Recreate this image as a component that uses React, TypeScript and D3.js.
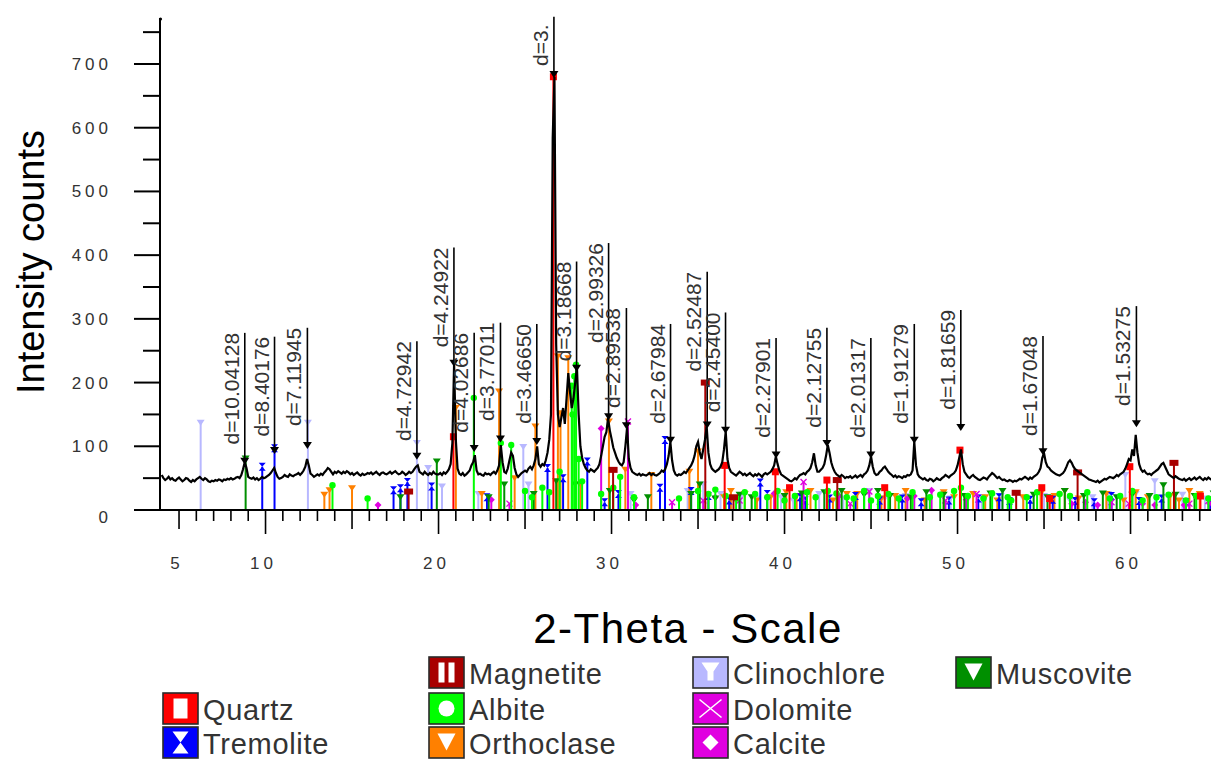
import React from "react";
import * as d3 from "d3";

const W = 1211;
const H = 764;
const FONT = "'Liberation Sans', Arial, sans-serif";

// ---- measured pattern (counts every 0.1 deg 2-theta) ----
const CURVE_STEP = 0.1;
const seg1Start = 4.0;
const seg1 = [
  55, 50, 47, 49, 52, 48, 50, 47, 46, 49,
  51, 48, 45, 47, 50, 49, 46, 44, 47, 45,
  48, 50, 52, 49, 47, 50, 48, 45, 44, 46,
  45, 47, 46, 48, 47, 45, 48, 47, 49, 48,
  50, 48, 49, 51, 52, 50, 55, 64, 75, 66,
  52, 50, 49, 51, 48, 50, 47, 49, 52, 50,
  51, 53, 55, 58, 62, 66, 58, 52, 49, 50,
  52, 55, 53, 52, 56, 54, 53, 55, 56, 58,
  55, 58, 62, 68, 80, 70, 57, 55, 52, 54,
  56, 54, 57, 55, 59, 62, 66, 64, 60, 56,
  60, 58, 61, 59, 57, 60, 58, 61, 59, 56,
  58, 55, 57, 59, 56, 54, 57, 55, 56, 58,
  57, 59, 56, 58, 60, 57, 55, 58, 59, 57,
  56, 58, 60, 57, 59, 61, 58, 56, 57, 60,
  58, 55, 57, 60, 58, 60, 64, 68, 70, 60,
  58, 56, 60, 57, 55, 58, 56, 60, 57, 56,
];
const seg2Start = 20.0;
const seg2 = [
  56, 58, 55, 59, 57, 60, 64, 72, 105, 230,
  110, 65, 57, 55, 58, 54, 56, 59, 62, 70,
  75, 86, 62, 56, 57, 55, 54, 58, 56, 57,
  55, 58, 60, 57, 62, 70, 102, 75, 60, 58,
  65, 78, 90, 85, 66, 56, 52, 55, 58, 60,
  62, 60, 65, 68, 64, 70, 80, 100, 72, 68,
  72, 70, 78, 90, 110, 150, 584, 680, 260, 150,
  130, 145, 160, 135, 175, 215, 185, 160, 175, 200,
  225, 150, 100, 82, 72, 66, 62, 60, 64, 62,
  60, 63, 66, 72, 85, 100, 115, 122, 144, 125,
  112, 98, 90, 82, 76, 72, 70, 75, 100, 130,
  80, 66, 60, 58, 56, 55, 57, 54, 56, 55,
  54, 56, 58, 55, 57, 55, 54, 56, 58, 62,
  60, 64, 72, 85, 107, 78, 62, 56, 54, 56,
  55, 57, 60, 58, 62, 66, 70, 76, 85, 100,
  107, 90, 80, 95, 110, 131, 90, 72, 65, 62,
  60, 62, 64, 68, 75, 95, 123, 80, 66, 60,
];
const seg3Start = 37.0;
const seg3 = [
  58, 56, 54, 57, 60, 58, 55, 57, 54, 56,
  58, 55, 53, 56, 54, 57, 55, 52, 56, 58,
  56, 58, 60, 64, 70, 84, 72, 62, 56, 54,
  52, 50, 48, 46, 45, 47, 50, 48, 52, 55,
  56, 58, 56, 60, 62, 66, 75, 89, 70, 60,
  60, 63, 66, 72, 85, 102, 90, 75, 66, 60,
  56, 54, 52, 55, 53, 50, 52, 51, 53, 50,
  52, 54, 51, 53, 55, 52, 56, 58, 62, 70,
  84, 68, 58, 55, 56, 60, 62, 66, 68, 64,
  60, 57, 55, 52, 54, 51, 53, 52, 50, 53,
  52, 55, 54, 56, 62, 107, 70, 56, 52, 50,
  48, 50, 47, 46, 49, 48, 45, 47, 50, 48,
  47, 50, 52, 55, 53, 51, 54, 56, 58, 62,
  70, 82, 95, 72, 60, 56, 52, 50, 53, 55,
];
const seg4Start = 51.0;
const seg4 = [
  52, 50, 48, 47, 49, 51, 50, 48, 52, 55,
  58, 56, 53, 50, 52, 49, 47, 48, 46, 45,
  47, 46, 44, 46, 45, 47, 49, 48, 50, 52,
  50, 48, 51, 49, 52, 54, 56, 60, 66, 82,
  89, 75, 68, 66, 62, 60, 58, 56, 55, 54,
  56, 58, 62, 68, 75, 78, 74, 68, 64, 62,
  60, 58, 56, 54, 52, 50, 48, 47, 46, 45,
  44, 46, 43, 45, 47, 49, 48, 50, 52, 51,
  50, 52, 55, 53, 56, 58, 60, 65, 72, 80,
  78, 95, 85, 118, 90, 72, 64, 60, 62, 58,
  56, 57, 55, 58, 60, 62, 64, 68, 72, 74,
  68, 62, 56, 54, 52, 50, 53, 51, 49, 48,
  47, 49, 46, 48, 50, 47, 49, 51, 48, 50,
  52, 49, 47, 50, 48, 51, 49, 47, 50, 48, 49,
];

// ---- d-spacing labels ----
const labelTheta = [8.80, 10.52, 12.42, 18.75, 20.89, 22.06, 23.58, 25.68, 26.67, 27.98, 29.83, 30.86, 33.41, 35.53, 36.59, 39.51, 42.45, 44.99, 47.50, 50.19, 54.94, 60.34];
const labelText = ["d=10.04128", "d=8.40176", "d=7.11945", "d=4.72942", "d=4.24922", "d=4.02686", "d=3.77011", "d=3.46650", "d=3.", "d=3.18668", "d=2.99326", "d=2.89538", "d=2.67984", "d=2.52487", "d=2.45400", "d=2.27901", "d=2.12755", "d=2.01317", "d=1.91279", "d=1.81659", "d=1.67048", "d=1.53275"];
const labelPeak = [74, 91, 99, 82, 228, 94, 109, 105, 681, 220, 144, 130, 107, 131, 123, 84, 102, 84, 107, 127, 89, 133];
const labelLineTop = [278, 272, 286, 265, 412, 278, 294, 292, 774, 390, 419, 317, 292, 374, 310, 270, 286, 270, 292, 314, 273, 320];
const labelTextTop = [278, 272, 286, 265, 412, 278, 294, 292, 762, 390, 419, 317, 292, 374, 310, 270, 286, 270, 292, 314, 273, 320];

// ---- axes ----
const xTickLabels = [5, 10, 20, 30, 40, 50, 60];
const yTickLabels = [0, 100, 200, 300, 400, 500, 600, 700];

// ---- reference phases (2-theta, counts) ----
const quartzSticks = [[20.86, 115], [26.64, 680], [36.54, 70], [39.47, 60], [40.29, 35], [42.45, 47], [45.79, 35], [50.14, 94], [54.87, 35], [55.33, 18], [59.96, 68], [64.04, 22]];
const magnetiteSticks = [[18.27, 29], [30.09, 63], [35.42, 200], [37.05, 20], [43.05, 47], [53.39, 27], [56.94, 59], [62.51, 74]];
const tremoliteSticks = [[9.81, 68], [10.52, 97], [17.4, 31], [17.8, 34], [18.2, 44], [19.6, 37], [22.8, 20], [26.3, 66], [27.2, 50], [28.6, 76], [29.6, 12], [30.4, 25], [32.8, 35], [33.09, 110], [34.6, 30], [35.6, 22], [36.8, 15], [38.6, 43], [39.0, 25], [40.9, 20], [41.2, 15], [42.6, 18], [44.1, 22], [45.5, 15], [46.8, 18], [47.9, 12], [49.5, 15], [51.2, 18], [52.4, 20], [53.0, 14], [54.2, 16], [55.5, 16], [56.8, 14], [57.9, 12], [58.9, 22], [60.5, 14], [61.8, 18], [63.2, 12], [64.6, 15]];
const albiteSticks = [[13.87, 39], [15.9, 18], [22.04, 176], [23.6, 105], [24.2, 102], [25.0, 30], [25.4, 20], [26.0, 35], [26.4, 28], [27.0, 60], [27.7, 195], [27.75, 150], [27.85, 210], [27.95, 228], [28.1, 80], [28.3, 45], [29.4, 25], [30.1, 35], [30.5, 52], [31.3, 20], [33.9, 18], [35.0, 30], [35.6, 25], [36.0, 32], [36.6, 22], [37.2, 18], [37.7, 28], [38.3, 25], [39.0, 20], [39.6, 30], [40.0, 15], [40.6, 22], [41.3, 28], [41.8, 20], [42.5, 30], [43.0, 26], [43.6, 20], [44.0, 18], [44.6, 30], [45.0, 15], [45.4, 22], [46.0, 25], [46.6, 18], [47.4, 28], [48.4, 20], [49.0, 24], [49.8, 30], [50.2, 35], [50.6, 22], [51.5, 18], [52.0, 26], [52.9, 20], [53.1, 15], [54.0, 20], [54.6, 28], [55.9, 25], [56.5, 22], [57.5, 28], [58.8, 18], [59.4, 22], [60.1, 30], [60.7, 15], [61.5, 20], [62.2, 24], [63.2, 15], [63.8, 22], [64.5, 18], [64.9, 20]];
const orthoclaseSticks = [[13.4, 24], [13.7, 31], [15.0, 34], [21.0, 160], [22.5, 25], [23.5, 186], [24.4, 50], [25.6, 131], [26.9, 241], [27.05, 152], [27.5, 238], [28.2, 40], [29.85, 139], [30.8, 63], [32.3, 55], [34.5, 60], [35.0, 92], [36.5, 20], [36.9, 30], [37.7, 25], [38.4, 15], [39.2, 20], [40.1, 28], [40.7, 22], [41.5, 30], [42.8, 15], [43.6, 25], [44.2, 25], [45.6, 18], [46.4, 22], [47.0, 30], [48.1, 15], [49.2, 28], [49.8, 20], [50.9, 25], [51.6, 20], [52.3, 15], [53.8, 20], [54.8, 25], [55.6, 22], [56.2, 30], [57.0, 18], [58.6, 25], [59.6, 15], [60.3, 28], [61.0, 20], [62.3, 22], [62.8, 15], [63.4, 30], [64.0, 25]];
const clinochloreSticks = [[6.25, 137], [12.45, 137], [18.75, 105], [19.4, 66], [20.2, 37], [22.3, 25], [24.9, 99], [25.2, 40], [31.1, 25], [34.4, 30], [35.3, 40], [36.3, 25], [37.5, 20], [38.4, 18], [39.8, 20], [40.5, 15], [42.0, 25], [43.4, 18], [44.9, 30], [45.8, 18], [47.0, 22], [48.2, 15], [49.6, 18], [50.5, 20], [51.4, 20], [52.5, 22], [53.8, 18], [55.0, 22], [56.5, 15], [57.8, 20], [58.7, 25], [59.7, 55], [60.3, 25], [61.4, 45], [62.2, 20], [63.0, 24], [64.3, 18]];
const dolomiteSticks = [[24.1, 10], [30.95, 139], [33.5, 12], [35.3, 15], [37.4, 15], [41.1, 44], [43.8, 10], [44.9, 29], [49.3, 15], [50.5, 20], [51.1, 25], [58.9, 12], [59.9, 10], [63.4, 10], [64.5, 14]];
const calciteSticks = [[16.5, 8], [23.05, 16], [29.4, 128], [31.4, 8], [36.0, 20], [39.4, 26], [43.15, 22], [47.1, 18], [47.5, 22], [48.5, 31], [56.6, 10], [57.4, 12], [58.1, 8], [60.7, 10], [61.4, 8], [63.1, 8], [64.7, 10]];
const muscoviteSticks = [[8.85, 81], [17.8, 20], [19.9, 76], [22.9, 20], [23.8, 40], [25.5, 25], [26.8, 45], [27.9, 40], [29.9, 30], [31.3, 15], [32.1, 20], [34.6, 25], [35.1, 40], [36.0, 18], [37.4, 24], [38.1, 20], [40.0, 22], [41.0, 26], [42.3, 28], [43.3, 30], [44.6, 24], [45.4, 30], [46.1, 22], [47.3, 20], [48.2, 28], [49.2, 24], [50.4, 22], [51.9, 26], [52.6, 30], [54.4, 24], [55.2, 20], [56.2, 30], [57.3, 22], [58.4, 26], [59.2, 20], [60.1, 24], [61.1, 22], [61.9, 39], [62.6, 24], [63.7, 22], [64.8, 26]];

type Phase = { name: string; color: string; marker: string; sticks: number[][] };

const phases: Phase[] = [
  { name: "Clinochlore", color: "#b8b8ff", marker: "tri", sticks: clinochloreSticks },
  { name: "Orthoclase", color: "#ff8000", marker: "tri", sticks: orthoclaseSticks },
  { name: "Tremolite", color: "#0000ff", marker: "hourglass", sticks: tremoliteSticks },
  { name: "Calcite", color: "#e000e0", marker: "diamond", sticks: calciteSticks },
  { name: "Dolomite", color: "#e000e0", marker: "x", sticks: dolomiteSticks },
  { name: "Muscovite", color: "#008f00", marker: "tri", sticks: muscoviteSticks },
  { name: "Albite", color: "#00ff00", marker: "circle", sticks: albiteSticks },
  { name: "Magnetite", color: "#a80000", marker: "bar", sticks: magnetiteSticks },
  { name: "Quartz", color: "#ff0000", marker: "square", sticks: quartzSticks },
];

// legend slots [column, row]
const legendSlots: Record<string, [number, number]> = {
  Magnetite: [1, 0], Clinochlore: [2, 0], Muscovite: [3, 0],
  Quartz: [0, 1], Albite: [1, 1], Dolomite: [2, 1],
  Tremolite: [0, 2], Orthoclase: [1, 2], Calcite: [2, 2],
};
const legendIcon: Record<string, string> = {
  Magnetite: "bars", Clinochlore: "funnel", Muscovite: "tri", Quartz: "rect", Albite: "circle",
  Dolomite: "x", Tremolite: "hourglass", Orthoclase: "tri", Calcite: "diamond",
};

const x = d3.scaleLinear().domain([3.9, 65]).range([160, 160 + 61.1 * 17.3]);
const y = d3.scaleLinear().domain([0, 700]).range([510, 64]);

function StickMarker({ type, color, cx, cy }: { type: string; color: string; cx: number; cy: number }) {
  switch (type) {
    case "square":
      return <rect x={cx - 3.5} y={cy - 3.5} width={7} height={7} fill={color} />;
    case "bar":
      return <rect x={cx - 4.5} y={cy - 3} width={9} height={6} fill={color} />;
    case "hourglass":
      return <path d={`M${cx - 3.5},${cy - 4}h7l-7,8h7z`} fill={color} />;
    case "circle":
      return <circle cx={cx} cy={cy} r={3.2} fill={color} />;
    case "tri":
      return <path d={`M${cx - 4},${cy - 3}h8l-4,6z`} fill={color} />;
    case "x":
      return (
        <g stroke={color} strokeWidth={1.4}>
          <line x1={cx - 3} y1={cy - 3} x2={cx + 3} y2={cy + 3} />
          <line x1={cx - 3} y1={cy + 3} x2={cx + 3} y2={cy - 3} />
        </g>
      );
    case "diamond":
      return <path d={`M${cx},${cy - 3.5}l3.5,3.5l-3.5,3.5l-3.5,-3.5z`} fill={color} />;
    default:
      return null;
  }
}

function LegendIcon({ type, color, x0, y0 }: { type: string; color: string; x0: number; y0: number }) {
  const w = 35, h = 31;
  const cx = x0 + w / 2, cy = y0 + h / 2;
  let sym: React.ReactNode = null;
  switch (type) {
    case "rect":
      sym = <rect x={cx - 7} y={cy - 10} width={14} height={20} fill="#fff" />;
      break;
    case "bars":
      sym = (
        <g fill="#fff">
          <rect x={cx - 8} y={cy - 10} width={6} height={20} />
          <rect x={cx + 2} y={cy - 10} width={6} height={20} />
        </g>
      );
      break;
    case "circle":
      sym = <circle cx={cx} cy={cy} r={8} fill="#fff" />;
      break;
    case "tri":
      sym = <path d={`M${cx - 9},${cy - 9}h18l-9,17z`} fill="#fff" />;
      break;
    case "funnel":
      sym = <path d={`M${cx - 9},${cy - 10}h18l-6,9v9h-6v-9z`} fill="#fff" />;
      break;
    case "x":
      sym = (
        <g stroke="#fff" strokeWidth={1.6}>
          <line x1={cx - 11} y1={cy - 9} x2={cx + 11} y2={cy + 9} />
          <line x1={cx - 11} y1={cy + 9} x2={cx + 11} y2={cy - 9} />
        </g>
      );
      break;
    case "diamond":
      sym = <path d={`M${cx},${cy - 8}l8,8l-8,8l-8,-8z`} fill="#fff" />;
      break;
    case "hourglass":
      sym = <path d={`M${cx - 8},${cy - 11}h16l-16,22h16z`} fill="#fff" />;
      break;
  }
  return (
    <g>
      <rect x={x0} y={y0} width={w} height={h} fill={color} stroke="#2a2a2a" strokeWidth={1.6} />
      {sym}
    </g>
  );
}

export default function App() {
  const segs: [number, number[]][] = [
    [seg1Start, seg1],
    [seg2Start, seg2],
    [seg3Start, seg3],
    [seg4Start, seg4],
  ];
  const points: [number, number][] = [];
  segs.forEach(([start, vals]) => {
    vals.forEach((v, i) => points.push([start + i * CURVE_STEP, v]));
  });
  const line = d3
    .line<[number, number]>()
    .x((d) => x(d[0]))
    .y((d) => y(d[1]));

  const xTicks = d3.range(5, 65);
  const yTicks = d3.range(50, 800, 50);
  const legendColX = [163, 429, 693, 956];
  const legendRowY = [657, 693, 727];

  return (
    <svg
      width={W}
      height={H}
      style={{ position: "absolute", left: 0, top: 0, background: "#fff" }}
      fontFamily={FONT}
    >
      <rect x={0} y={0} width={W} height={H} fill="#fff" />
      <defs>
        <clipPath id="plotclip">
          <rect x={160} y={0} width={W - 160} height={511} />
        </clipPath>
      </defs>

      {/* reference sticks */}
      <g clipPath="url(#plotclip)">
        {phases.map((p) => (
          <g key={p.name}>
            {p.sticks.map(([t, c], i) => (
              <line key={i} x1={x(t)} x2={x(t)} y1={y(0)} y2={y(c)} stroke={p.color} strokeWidth={2} />
            ))}
            {p.sticks.map(([t, c], i) => (
              <StickMarker key={"m" + i} type={p.marker} color={p.color} cx={x(t)} cy={y(c)} />
            ))}
          </g>
        ))}
      </g>

      {/* measured pattern */}
      <path d={line(points) || ""} fill="none" stroke="#000" strokeWidth={2.2} strokeLinejoin="miter" clipPath="url(#plotclip)" />

      {/* d-spacing labels */}
      {labelTheta.map((t, i) => {
        const px = x(t);
        return (
          <g key={"lab" + i}>
            <line x1={px} x2={px} y1={y(labelLineTop[i])} y2={y(labelPeak[i])} stroke="#000" strokeWidth={1.6} />
            <path d={`M${px - 4.5},${y(labelPeak[i]) - 5}h9l-4.5,7z`} fill="#000" />
            <text
              transform={`translate(${px - 6},${y(labelTextTop[i])}) rotate(-90)`}
              textAnchor="end"
              fontSize={21}
              fill="#333"
            >
              {labelText[i]}
            </text>
          </g>
        );
      })}

      {/* y axis */}
      <line x1={160} x2={160} y1={y(0)} y2={18} stroke="#000" strokeWidth={2} />
      <circle cx={160.5} cy={19} r={1.6} fill="#000" />
      {yTicks.map((v) => (
        <line key={"yt" + v} x1={v % 100 === 0 ? 134 : 143} x2={160} y1={y(v)} y2={y(v)} stroke="#000" strokeWidth={2} />
      ))}
      {yTickLabels.map((v) => (
        <text
          key={"yl" + v}
          x={112}
          y={y(v) + (v === 0 ? 7 : 0)}
          dy="0.35em"
          textAnchor="end"
          fontSize={17}
          letterSpacing={4}
          fill="#333"
        >
          {v}
        </text>
      ))}
      <text
        transform={`translate(44,262) rotate(-90)`}
        textAnchor="middle"
        fontSize={38}
        fill="#000"
      >
        Intensity counts
      </text>

      {/* x axis */}
      <line x1={134} x2={W} y1={y(0)} y2={y(0)} stroke="#000" strokeWidth={2} />
      {xTicks.map((v) => {
        const len = v % 10 === 0 ? 24 : v % 5 === 0 ? 19 : 11;
        return <line key={"xt" + v} x1={x(v)} x2={x(v)} y1={y(0)} y2={y(0) + len} stroke="#000" strokeWidth={1.6} />;
      })}
      {xTickLabels.map((v) => (
        <text key={"xl" + v} x={x(v) - 2} y={563} dy="0.35em" textAnchor="middle" fontSize={17} letterSpacing={4} fill="#333">
          {v}
        </text>
      ))}
      <text x={688} y={643} textAnchor="middle" fontSize={42} letterSpacing={1.5} fill="#000">
        2-Theta - Scale
      </text>

      {/* legend */}
      {phases.map((p) => {
        const [c, r] = legendSlots[p.name];
        const x0 = legendColX[c];
        const y0 = legendRowY[r];
        return (
          <g key={"lg" + p.name}>
            <LegendIcon type={legendIcon[p.name]} color={p.color} x0={x0} y0={y0} />
            <text x={x0 + 40} y={y0 + 27} fontSize={29} letterSpacing={0.7} fill="#333">
              {p.name}
            </text>
          </g>
        );
      })}
    </svg>
  );
}
